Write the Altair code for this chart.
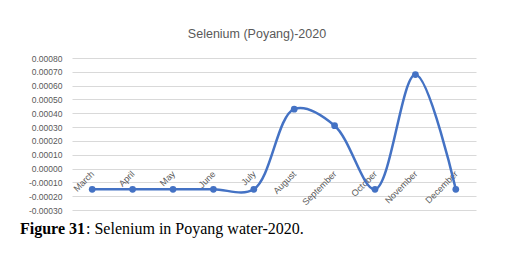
import altair as alt
import pandas as pd

months = ["March", "April", "May", "June", "July", "August", "September",
          "October", "November", "December"]
selenium = [-0.00015, -0.00015, -0.00015, -0.00015, -0.00015, 0.00043,
            0.00031, -0.00015, 0.00068, -0.00015]
y_ticks = [-0.0003, -0.0002, -0.0001, 0.0, 0.0001, 0.0002, 0.0003, 0.0004,
           0.0005, 0.0006, 0.0007, 0.0008]
title_text = "Selenium (Poyang)-2020"
caption_bold = "Figure 31"
caption_rest = ": Selenium in Poyang water-2020."

df = pd.DataFrame({"month": months, "value": selenium})

GRAY = "#595959"
BLUE = "#4472C4"
FONT = "Liberation Sans"

x_enc = alt.X("month:N", sort=months, scale=alt.Scale(type="point", padding=0.5),
              axis=alt.Axis(title=None, domain=False, ticks=False, grid=False,
                            labelAngle=-45, labelAlign="right", labelBaseline="middle",
                            labelPadding=3, offset=-41, labelColor=GRAY,
                            labelFontSize=9, labelFont=FONT, labelOverlap=False))
y_enc = alt.Y("value:Q", scale=alt.Scale(domain=[-0.0003, 0.0008], nice=False, zero=False),
              axis=alt.Axis(title=None, values=y_ticks, tickCount=len(y_ticks) + 2,
                            domain=False, ticks=False,
                            gridColor="#d9d9d9", gridWidth=1, labelPadding=10,
                            labelOverlap=False, labelFlush=False,
                            labelColor=GRAY, labelFontSize=8.5, labelFont=FONT,
                            labelExpr="replace(format(datum.value, '.5f'), '\u2212', '-')"))

line = alt.Chart(df).mark_line(color=BLUE, strokeWidth=2.5, interpolate="catmull-rom").encode(
    x=x_enc, y=y_enc)
pts = alt.Chart(df).mark_point(filled=True, color=BLUE, size=45, opacity=1).encode(
    x=x_enc, y=y_enc)

cap_df = pd.DataFrame({"a": [caption_bold], "b": [caption_rest]})
cap1 = alt.Chart(cap_df).mark_text(align="left", baseline="alphabetic", font="Liberation Serif",
                                    fontSize=16, fontWeight="bold", color="black").encode(
    text="a:N", x=alt.value(-52), y=alt.value(176))
cap2 = alt.Chart(cap_df).mark_text(align="left", baseline="alphabetic", font="Liberation Serif",
                                    fontSize=16, color="black").encode(
    text="b:N", x=alt.value(14), y=alt.value(176))

chart = alt.layer(line, pts, cap1, cap2).properties(
    width=404, height=152,
    autosize=alt.AutoSizeParams(type="none"),
    padding={"left": 64, "top": 50, "right": 23, "bottom": 37},
    title=alt.TitleParams(title_text, font=FONT, fontSize=12.5, fontWeight="normal",
                          color=GRAY, offset=14, dx=-17, anchor="middle"),
).configure_view(stroke=None)

chart.save("out.html", embed_options={"renderer": "svg", "actions": False})
